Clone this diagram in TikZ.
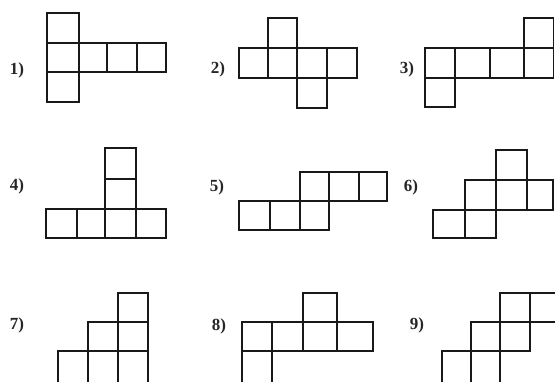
\documentclass[tikz,border=0pt]{standalone}
\usepackage{fontspec}
\setmainfont{Liberation Serif}
\begin{document}
\begin{tikzpicture}[x=1pt,y=-1pt,
  cellbox/.style={draw=black!90,line width=1.6pt,line join=miter},
  lbl/.style={font=\fontsize{17}{17}\selectfont\bfseries,inner sep=0pt,text=black!85}]
\useasboundingbox (0,0) rectangle (555,381);
\clip (0,0) rectangle (555,381);
\newcommand{\cellsq}[4]{\draw[cellbox] (#1,#2) rectangle (#3,#4);}
% labels
\node[lbl] (l1) at (17,70) {1)};
\node[lbl] (l2) at (218,69) {2)};
\node[lbl] (l3) at (407,69) {3)};
\node[lbl] (l4) at (17,186) {4)};
\node[lbl] (l5) at (217,187) {5)};
\node[lbl] (l6) at (411,187) {6)};
\node[lbl] (l7) at (17,325) {7)};
\node[lbl] (l8) at (219,326) {8)};
\node[lbl] (l9) at (417,325) {9)};
% net 1
\cellsq{47}{13}{79}{43}\cellsq{47}{43}{79}{72}\cellsq{47}{72}{79}{102}
\cellsq{79}{43}{107}{72}\cellsq{107}{43}{137}{72}\cellsq{137}{43}{166}{72}
% net 2
\cellsq{268}{18}{297}{48}
\cellsq{239}{48}{268}{78}\cellsq{268}{48}{297}{78}\cellsq{297}{48}{327}{78}\cellsq{327}{48}{357}{78}
\cellsq{297}{78}{327}{108}
% net 3
\cellsq{524}{18}{553.5}{48}
\cellsq{425}{48}{455}{78}\cellsq{455}{48}{490}{78}\cellsq{490}{48}{524}{78}\cellsq{524}{48}{553.5}{78}
\cellsq{425}{78}{455}{107}
% net 4
\cellsq{105}{148}{136}{179}\cellsq{105}{179}{136}{209}
\cellsq{46}{209}{77}{238}\cellsq{77}{209}{105}{238}\cellsq{105}{209}{136}{238}\cellsq{136}{209}{166}{238}
% net 5
\cellsq{300}{172}{329}{201}\cellsq{329}{172}{359}{201}\cellsq{359}{172}{387}{201}
\cellsq{239}{201}{270}{230}\cellsq{270}{201}{300}{230}\cellsq{300}{201}{329}{230}
% net 6
\cellsq{496}{150}{527}{180}
\cellsq{465}{180}{496}{210}\cellsq{496}{180}{527}{210}\cellsq{527}{180}{553}{210}
\cellsq{433}{210}{465}{238}\cellsq{465}{210}{496}{238}
% net 7
\cellsq{118}{293}{148}{322}
\cellsq{88}{322}{118}{351}\cellsq{118}{322}{148}{351}
\cellsq{58}{351}{88}{386}\cellsq{88}{351}{118}{386}\cellsq{118}{351}{148}{386}
% net 8
\cellsq{303}{293}{337}{322}
\cellsq{242}{322}{272}{351}\cellsq{272}{322}{303}{351}\cellsq{303}{322}{337}{351}\cellsq{337}{322}{373}{351}
\cellsq{242}{351}{272}{386}
% net 9
\cellsq{500}{293}{530}{322}\cellsq{530}{293}{560}{322}
\cellsq{471}{322}{500}{351}\cellsq{500}{322}{530}{351}
\cellsq{442}{351}{471}{386}\cellsq{471}{351}{500}{386}
\end{tikzpicture}
\end{document}
